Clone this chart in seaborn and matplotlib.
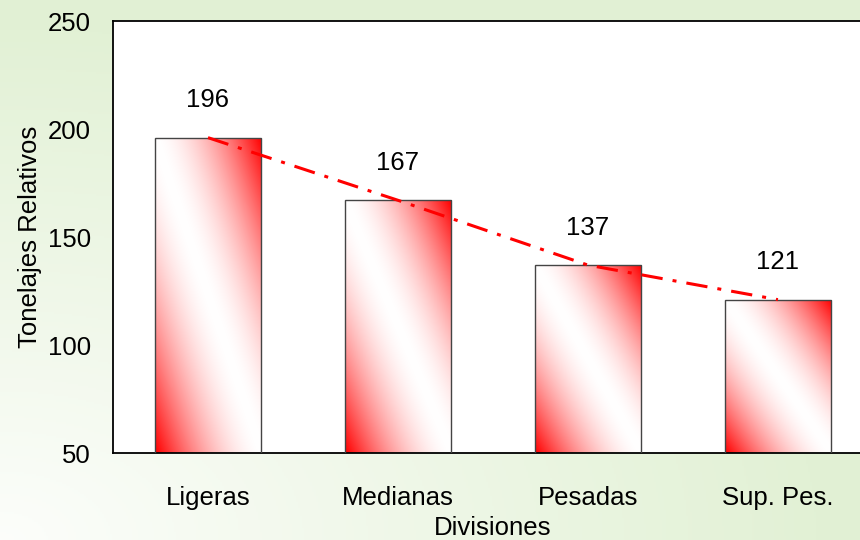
import numpy as np
import pandas as pd
import matplotlib
matplotlib.use("Agg")
import matplotlib.pyplot as plt
import seaborn as sns

# data
divisiones = ["Ligeras", "Medianas", "Pesadas", "Sup. Pes."]
tonelajes = [196, 167, 137, 121]
y_ticks = [50, 100, 150, 200, 250]

sns.set_style("white")
plt.rcParams['font.family'] = ['Liberation Sans', 'DejaVu Sans']
FS = 18.5

df = pd.DataFrame({"division": divisiones, "tonelaje": tonelajes})

fig = plt.figure(figsize=(8.6, 5.4), dpi=100)

# figure background: white in the bottom-left corner fading to pale green
bg = fig.add_axes([0, 0, 1, 1], zorder=-10)
H, W = 270, 430
yy, xx = np.mgrid[0:H, 0:W]
u = xx / W
w = (H - yy) / H
t = np.clip(np.sqrt(u ** 2 + w ** 2) / 0.95, 0, 1)
green = np.array([0.886, 0.945, 0.835])
white = np.array([0.99, 0.995, 0.985])
img = white[None, None, :] * (1 - t[..., None]) + green[None, None, :] * t[..., None]
bg.imshow(img, aspect="auto", extent=(0, 1, 0, 1), origin="upper")
bg.axis("off")

ax = fig.add_axes([0.1314, 0.1611, 0.8836, 0.8])
ax.set_facecolor("white")

sns.barplot(data=df, x="division", y="tonelaje", color="white", width=0.56,
            edgecolor="#444444", linewidth=1.0, ax=ax, zorder=2)

# red-white-red diagonal gradient inside each bar
gy, gx = np.mgrid[0:100, 0:100]
uu = gx / 99.0
vv = (99 - gy) / 99.0
k = np.abs((uu + vv) / 2 - 0.5) * 2
k = np.clip(k, 0, 1) ** 1.7
grad = np.ones((100, 100, 3))
grad[..., 1] = 1 - k
grad[..., 2] = 1 - k
for bar in ax.patches:
    x0 = bar.get_x()
    x1 = x0 + bar.get_width()
    top = bar.get_height()
    im = ax.imshow(grad, extent=(x0, x1, 50, top), aspect="auto",
                   origin="upper", zorder=2.5, interpolation="bilinear")
    im.set_clip_path(bar)
    bar.set_zorder(3)
    bar.set_facecolor("none")

ax.set_xlim(-0.5, len(divisiones) - 0.5)
ax.set_ylim(50, 250)

# trend line over the bar tops
ax.plot(range(len(tonelajes)), tonelajes, color="#ff0000", lw=2.2,
        linestyle=(0, (7, 3.3, 1.3, 3.3)), zorder=4)

for i, v in enumerate(tonelajes):
    ax.annotate(f"{v}", (i, v), xytext=(0, 27), textcoords="offset points",
                ha="center", va="center", fontsize=FS, color="black")

ax.set_yticks(y_ticks)
ax.tick_params(axis="y", length=0, pad=16, labelsize=FS, labelcolor="black")
ax.tick_params(axis="x", length=0, pad=24, labelsize=FS, labelcolor="black")
ax.set_xlabel("Divisiones", fontsize=FS, labelpad=4, color="black")
ax.set_ylabel("Tonelajes Relativos", fontsize=FS, labelpad=4, color="black")

for s in ax.spines.values():
    s.set_color("black")
    s.set_linewidth(1.3)

fig.savefig("out.png", dpi=100)
